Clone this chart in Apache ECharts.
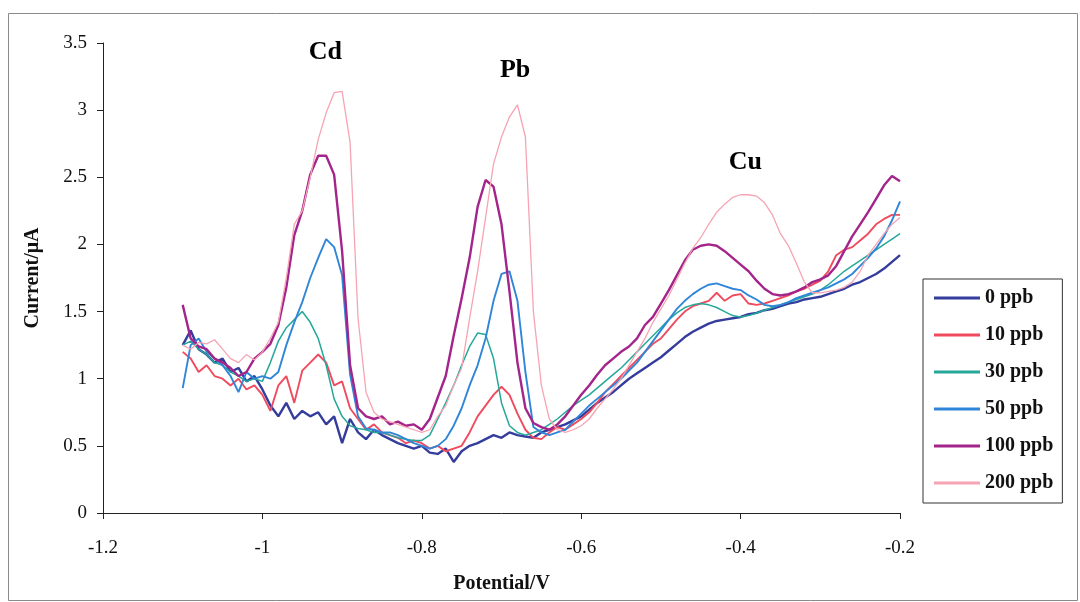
<!DOCTYPE html>
<html>
<head>
<meta charset="utf-8">
<script src="https://cdn.jsdelivr.net/npm/echarts@6/dist/echarts.min.js"></script>
<style>
html,body{margin:0;padding:0;background:#fff;}
#chart{width:1080px;height:602px;}
</style>
</head>
<body>
<div id="chart"></div>
<script>
// Potential (V)
var potentials = [
-1.10,-1.09,-1.08,-1.07,-1.06,-1.05,-1.04,-1.03,-1.02,-1.01,
-1.00,-0.99,-0.98,-0.97,-0.96,-0.95,-0.94,-0.93,-0.92,-0.91,
-0.90,-0.89,-0.88,-0.87,-0.86,-0.85,-0.84,-0.83,-0.82,-0.81,
-0.80,-0.79,-0.78,-0.77,-0.76,-0.75,-0.74,-0.73,-0.72,-0.71,
-0.70,-0.69,-0.68,-0.67,-0.66,-0.65,-0.64,-0.63,-0.62,-0.61,
-0.60,-0.59,-0.58,-0.57,-0.56,-0.55,-0.54,-0.53,-0.52,-0.51,
-0.50,-0.49,-0.48,-0.47,-0.46,-0.45,-0.44,-0.43,-0.42,-0.41,
-0.40,-0.39,-0.38,-0.37,-0.36,-0.35,-0.34,-0.33,-0.32,-0.31,
-0.30,-0.29,-0.28,-0.27,-0.26,-0.25,-0.24,-0.23,-0.22,-0.21,
-0.20];

// Current (uA) per concentration
var ppb0 = [
1.25,1.36,1.22,1.18,1.12,1.15,1.05,1.08,0.98,1.02,
0.92,0.80,0.72,0.82,0.70,0.76,0.72,0.75,0.66,0.72,
0.52,0.70,0.60,0.55,0.62,0.58,0.55,0.52,0.50,0.48,
0.50,0.45,0.44,0.48,0.38,0.46,0.50,0.52,0.55,0.58,
0.56,0.60,0.58,0.57,0.56,0.60,0.62,0.64,0.66,0.69,
0.72,0.77,0.82,0.86,0.90,0.95,1.00,1.04,1.08,1.12,
1.16,1.21,1.26,1.31,1.35,1.38,1.41,1.43,1.44,1.45,
1.46,1.48,1.49,1.51,1.52,1.54,1.56,1.57,1.59,1.60,
1.61,1.63,1.65,1.67,1.70,1.72,1.75,1.78,1.82,1.87,
1.92];
var ppb10 = [
1.20,1.15,1.05,1.10,1.02,1.00,0.95,1.00,0.92,0.95,
0.88,0.76,0.95,1.02,0.82,1.06,1.12,1.18,1.12,0.95,
0.98,0.78,0.70,0.62,0.66,0.60,0.58,0.56,0.52,0.54,
0.52,0.48,0.50,0.46,0.48,0.50,0.60,0.72,0.80,0.88,
0.94,0.88,0.74,0.62,0.56,0.55,0.60,0.64,0.62,0.66,
0.70,0.75,0.82,0.90,0.96,1.02,1.08,1.14,1.20,1.26,
1.30,1.37,1.44,1.50,1.54,1.56,1.58,1.64,1.58,1.62,
1.63,1.56,1.55,1.56,1.58,1.60,1.62,1.65,1.67,1.70,
1.73,1.80,1.92,1.96,1.98,2.03,2.08,2.15,2.19,2.22,
2.22];
var ppb30 = [
1.25,1.28,1.22,1.18,1.12,1.10,1.05,1.02,0.98,1.00,
0.98,1.12,1.28,1.38,1.44,1.50,1.42,1.30,1.10,0.85,
0.72,0.65,0.63,0.62,0.60,0.60,0.58,0.56,0.55,0.54,
0.54,0.58,0.70,0.82,0.95,1.10,1.24,1.34,1.33,1.15,
0.82,0.65,0.60,0.58,0.60,0.62,0.66,0.70,0.75,0.80,
0.84,0.88,0.93,0.98,1.03,1.08,1.14,1.20,1.26,1.32,
1.38,1.44,1.49,1.53,1.55,1.56,1.55,1.53,1.50,1.47,
1.46,1.47,1.49,1.51,1.53,1.55,1.57,1.59,1.61,1.63,
1.66,1.70,1.75,1.80,1.84,1.88,1.92,1.96,2.00,2.04,
2.08];
var ppb50 = [
0.93,1.25,1.30,1.20,1.15,1.10,1.02,0.90,1.05,1.00,
1.02,1.00,1.05,1.25,1.42,1.57,1.75,1.90,2.04,1.98,
1.77,1.03,0.72,0.63,0.62,0.60,0.60,0.58,0.55,0.52,
0.50,0.48,0.50,0.55,0.65,0.78,0.95,1.10,1.30,1.58,
1.78,1.80,1.58,1.05,0.64,0.60,0.58,0.60,0.62,0.68,
0.74,0.80,0.85,0.90,0.95,1.00,1.06,1.12,1.20,1.28,
1.36,1.44,1.52,1.58,1.63,1.67,1.70,1.71,1.69,1.67,
1.66,1.62,1.59,1.55,1.54,1.55,1.57,1.60,1.62,1.64,
1.66,1.68,1.71,1.74,1.78,1.84,1.90,1.97,2.06,2.18,
2.32];
var ppb100 = [
1.55,1.30,1.24,1.22,1.15,1.12,1.08,1.02,1.05,1.15,
1.20,1.26,1.40,1.68,2.07,2.25,2.52,2.66,2.66,2.52,
1.95,1.10,0.78,0.72,0.70,0.72,0.66,0.68,0.65,0.66,
0.62,0.70,0.86,1.02,1.32,1.60,1.90,2.28,2.48,2.43,
2.15,1.65,1.12,0.78,0.67,0.64,0.62,0.66,0.72,0.80,
0.88,0.95,1.03,1.10,1.15,1.20,1.24,1.30,1.40,1.46,
1.56,1.66,1.77,1.88,1.96,1.99,2.00,1.99,1.95,1.90,
1.85,1.80,1.73,1.67,1.63,1.62,1.63,1.65,1.68,1.72,
1.74,1.77,1.84,1.95,2.06,2.15,2.24,2.34,2.44,2.51,
2.47];
var ppb200 = [
1.25,1.22,1.27,1.26,1.29,1.22,1.15,1.12,1.18,1.14,
1.20,1.30,1.42,1.75,2.15,2.25,2.50,2.78,2.98,3.13,
3.14,2.76,1.45,0.90,0.75,0.70,0.68,0.66,0.64,0.62,
0.60,0.62,0.72,0.80,0.95,1.08,1.45,1.80,2.20,2.60,
2.80,2.95,3.04,2.80,1.50,0.95,0.70,0.62,0.60,0.62,
0.65,0.70,0.78,0.85,0.92,1.00,1.10,1.20,1.30,1.42,
1.52,1.62,1.74,1.86,1.97,2.05,2.15,2.24,2.30,2.35,
2.37,2.37,2.36,2.31,2.22,2.08,1.99,1.86,1.72,1.64,
1.64,1.65,1.66,1.68,1.72,1.80,1.92,2.00,2.08,2.15,
2.20];

var seriesNames = ['0 ppb','10 ppb','30 ppb','50 ppb','100 ppb','200 ppb'];
var seriesValues = [ppb0, ppb10, ppb30, ppb50, ppb100, ppb200];
var seriesColors = ['#343c9c','#f04a5e','#25a89a','#2f86d8','#a3248a','#f6a4b4'];
var seriesWidths = [2.4, 1.9, 1.5, 1.9, 2.4, 1.3];

var peakNames = ['Cd','Pb','Cu'];
var peakX = [-0.921, -0.683, -0.394];
var peakY = [3.43, 3.30, 2.61];

var serif = '"Liberation Serif","DejaVu Serif",serif';

var series = seriesNames.map(function(n, k){
  return {
    name: n, type: 'line', symbol: 'none', showSymbol: false,
    smooth: false,
    lineStyle: {color: seriesColors[k], width: seriesWidths[k]},
    itemStyle: {color: seriesColors[k]},
    data: potentials.map(function(x, i){ return [x, seriesValues[k][i]]; })
  };
});
series.push({
  name: 'peaks', type: 'scatter', symbolSize: 1,
  itemStyle: {opacity: 0},
  label: {show: true, position: 'inside', formatter: function(p){return p.data[2];},
    fontFamily: serif, fontWeight: 'bold', fontSize: 26, color: '#000', opacity: 1,
    textBorderWidth: 0},
  emphasis: {disabled: true},
  data: peakNames.map(function(n, i){ return [peakX[i], peakY[i], n]; }),
  silent: true
});

var chart = echarts.init(document.getElementById('chart'), null, {renderer: 'canvas'});
chart.setOption({
  animation: false,
  backgroundColor: '#fff',
  grid: {left: 103, right: 180, top: 43, bottom: 89, containLabel: false},
  graphic: [{
    type: 'rect', left: 6, top: 11, shape: {width: 1069, height: 587},
    style: {fill: 'none', stroke: '#8a8a8a', lineWidth: 1}, silent: true
  }],
  legend: {
    data: seriesNames,
    orient: 'vertical', left: 923, top: 279,
    padding: [9, 9, 10, 11],
    icon: 'rect',
    itemGap: 17, itemWidth: 46, itemHeight: 3,
    borderColor: '#333', borderWidth: 1,
    textStyle: {fontFamily: serif, fontWeight: 'bold', fontSize: 20, color: '#111', lineHeight: 20}
  },
  xAxis: {
    type: 'value', min: -1.2, max: -0.2, interval: 0.2,
    name: 'Potential/V', nameLocation: 'middle', nameGap: 61,
    nameTextStyle: {fontFamily: serif, fontWeight: 'bold', fontSize: 20, color: '#111'},
    axisLine: {onZero: false, lineStyle: {color: '#222', width: 1}},
    axisTick: {show: true, length: 6, lineStyle: {color: '#222'}},
    axisLabel: {margin: 26, fontFamily: serif, fontSize: 19, color: '#111',
      formatter: function(v){ return String(Math.round(v*10)/10); }},
    splitLine: {show: false}
  },
  yAxis: {
    type: 'value', min: 0, max: 3.5, interval: 0.5,
    name: 'Current/\u03bcA', nameLocation: 'middle', nameGap: 60, nameRotate: 90,
    nameTextStyle: {fontFamily: serif, fontWeight: 'bold', fontSize: 20, color: '#111'},
    axisLine: {show: true, lineStyle: {color: '#222', width: 1}},
    axisTick: {show: true, length: 6, lineStyle: {color: '#222'}},
    axisLabel: {margin: 16, fontFamily: serif, fontSize: 19, color: '#111'},
    splitLine: {show: false}
  },
  series: series
});
</script>
</body>
</html>
